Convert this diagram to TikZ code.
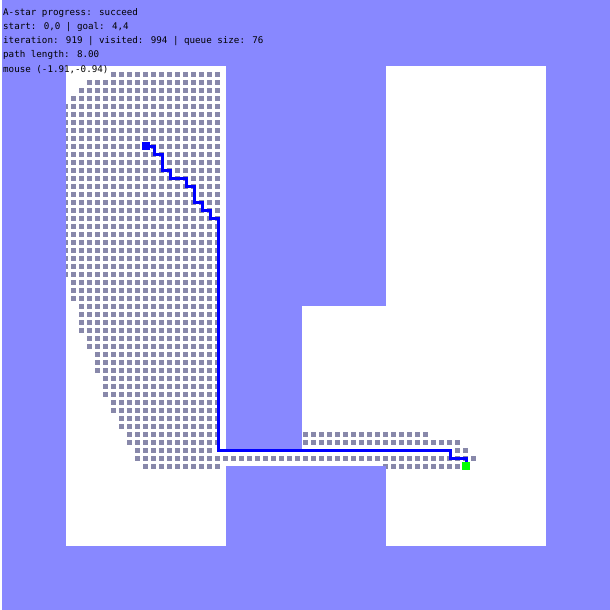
\documentclass[tikz,border=0pt]{standalone}
\usepackage{fontspec}
\newfontfamily\monof{DejaVu Sans Mono}
\definecolor{bgpurple}{RGB}{136,136,255}
\definecolor{dotc}{RGB}{136,136,170}
\definecolor{pathblue}{RGB}{0,0,255}
\definecolor{goalgreen}{RGB}{0,255,0}
\tikzset{
  infotext/.style={anchor=base west, inner sep=0pt, font=\monof\fontsize{9.2}{11}\selectfont, text=black},
  visdot/.style={fill=dotc},
  astarpath/.style={draw=pathblue, line width=3pt, line join=miter, line cap=butt},
  endsq/.style={minimum width=8.5pt, minimum height=8.5pt, inner sep=0pt, outer sep=0pt, draw=none}
}
\begin{document}
\begin{tikzpicture}[x=1pt, y=-1pt]
\useasboundingbox (0,0) rectangle (610,610);
\fill[bgpurple] (0,0) rectangle (610,610);
\fill[white] (0,0) rectangle (2,610);
% free space
\fill[white] (66,66) rectangle (226,546);
\fill[white] (386,66) rectangle (546,546);
\fill[white] (302,306) rectangle (386,466);
\fill[white] (226,450) rectangle (302,466);
% visited cells
\begin{scope}
\clip (66,66) rectangle (226,546) (386,66) rectangle (546,546)
      (302,306) rectangle (386,466) (226,450) rectangle (302,466);
\foreach \j/\a/\b in {-9/-4/9, -8/-7/9, -7/-8/9, -6/-9/9,
   -5/-10/9, -4/-10/9, -3/-10/9, -2/-10/9, -1/-10/9, 0/-10/9, 1/-10/9, 2/-10/9, 3/-10/9,
   4/-10/9, 5/-10/9, 6/-10/9, 7/-10/9, 8/-10/9, 9/-10/9, 10/-10/9, 11/-10/9,
   12/-10/9, 13/-10/9, 14/-10/9, 15/-10/9, 16/-10/9,
   17/-9/9, 18/-9/9, 19/-9/9,
   20/-8/9, 21/-8/9, 22/-8/9, 23/-8/9,
   24/-7/9, 25/-7/9,
   26/-6/9, 27/-6/9, 28/-6/9,
   29/-5/9, 30/-5/9, 31/-5/9,
   32/-4/9, 33/-4/9,
   34/-3/9, 35/-3/9,
   36/-2/9, 36/20/35,
   37/-2/9, 37/20/39,
   38/-1/8, 38/39/40,
   39/-1/41,
   40/0/9, 40/30/39}{
  \foreach \i in {\a,...,\b}{
    \fill[visdot] ({146+8*\i-3},{146+8*\j-2.5}) rectangle ++(5,5);
  }
}
\end{scope}
% path
\coordinate (p0) at (146,146);
\coordinate (p1) at (218,450);
\draw[astarpath] (p0) -- (154,146) -- (154,154) -- (162,154) -- (162,170) -- (170,170)
  -- (170,178) -- (186,178) -- (186,186) -- (194,186) -- (194,202) -- (202,202)
  -- (202,210) -- (210,210) -- (210,218) -- (218,218) -- (p1) -- (450,450)
  -- (450,458) -- (466,458) -- (466,466);
\node[endsq, fill=pathblue] (start) at (146,146) {};
\node[endsq, fill=goalgreen] (goal) at (466,466) {};
% info text
\node[infotext] (t1) at (3,16) {A-star progress: succeed};
\node[infotext] (t2) at (3,30) {start: 0,0 | goal: 4,4};
\node[infotext] (t3) at (3,44) {iteration: 919 | visited: 994 | queue size: 76};
\node[infotext] (t4) at (3,58) {path length: 8.00};
\node[infotext] (t5) at (3,72) {mouse (-1.91,-0.94)};
\end{tikzpicture}
\end{document}
